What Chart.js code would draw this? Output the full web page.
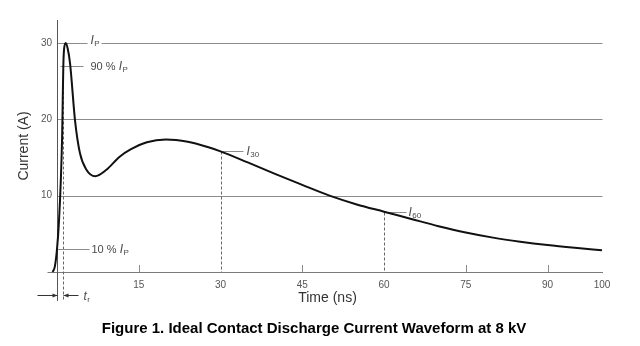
<!DOCTYPE html>
<html>
<head>
<meta charset="utf-8">
<script src="https://cdn.jsdelivr.net/npm/chart.js@4.4.1/dist/chart.umd.min.js"></script>
<style>
  html, body { margin: 0; padding: 0; background: #fff; }
  #wrap { width: 640px; height: 346px; }
</style>
</head>
<body>
<div id="wrap"><canvas id="chart" width="640" height="346"></canvas></div>
<script>
// ── Datos ──────────────────────────────────────────────────────────────────
const timeNs   = [-0.8, -0.4, 0, 0.35, 0.7, 0.95, 1.05, 1.16, 1.3, 1.6, 1.95, 2.4, 3.3, 4.2, 5.4, 7.0, 9.0, 11.5, 13.5, 16.5, 20, 24, 27.5, 30, 35, 40, 45, 50, 55, 60, 65, 70, 75, 80, 85, 90, 95, 100];
const currentA = [0, 0.7, 3, 6.5, 12, 18, 22.5, 27, 29.2, 30, 29.3, 27.3, 19.9, 15.6, 13.4, 12.55, 13.35, 15.1, 16.05, 17.0, 17.35, 17.05, 16.4, 15.8, 14.35, 12.85, 11.4, 10.0, 8.85, 7.9, 6.95, 6.0, 5.17, 4.5, 3.97, 3.53, 3.17, 2.85];
const xTicks = [15, 30, 45, 60, 75, 90, 100];
const yTicks = [10, 20, 30];
const peakA = 30;
const riseTimeNs = 1.16;          // cruce del 90 %
const i30 = currentA[timeNs.indexOf(30)];
const i60 = currentA[timeNs.indexOf(60)];

const FONT = '"Liberation Sans", Arial, sans-serif';
const GRAY = '#8c8c8c';
const LABEL = '#4a4a4a';

// ── Utilidades de dibujo ───────────────────────────────────────────────────
function seg(ctx, x1, y1, x2, y2) {
  ctx.beginPath();
  ctx.moveTo(x1, y1);
  ctx.lineTo(x2, y2);
  ctx.stroke();
}

// texto normal + letra cursiva + subíndice
function subLabel(ctx, x, y, pre, main, sub) {
  ctx.textBaseline = 'middle';
  ctx.textAlign = 'left';
  ctx.fillStyle = LABEL;
  ctx.font = '11px ' + FONT;
  ctx.fillText(pre, x, y);
  x += ctx.measureText(pre).width;
  ctx.font = 'italic 12px ' + FONT;
  ctx.fillText(main, x, y);
  x += ctx.measureText(main).width + 0.5;
  ctx.font = '8px ' + FONT;
  ctx.fillText(sub, x, y + 3);
  return x + ctx.measureText(sub).width;
}

function arrow(ctx, x1, x2, y) {
  seg(ctx, x1, y, x2, y);
  const d = x2 > x1 ? -1 : 1;
  ctx.beginPath();
  ctx.moveTo(x2, y);
  ctx.lineTo(x2 + d * 5, y - 2);
  ctx.lineTo(x2 + d * 5, y + 2);
  ctx.closePath();
  ctx.fill();
}

// ── Anotaciones ────────────────────────────────────────────────────────────
const annotations = {
  id: 'annotations',
  beforeDatasetsDraw(chart) {
    const { ctx, chartArea: a, scales: { x, y } } = chart;
    const X = v => Math.round(x.getPixelForValue(v)) + 0.5;
    const Y = v => Math.round(y.getPixelForValue(v)) + 0.5;
    ctx.save();
    ctx.lineWidth = 1;

    // prolongación del eje x a la izquierda
    ctx.strokeStyle = '#7a7a7a';
    seg(ctx, X(0) - 10, Y(0), a.left, Y(0));

    // rejilla horizontal desde el eje
    ctx.strokeStyle = GRAY;
    yTicks.forEach(v => seg(ctx, X(0), Y(v), X(100), Y(v)));

    // eje vertical (prolongado hasta t_r)
    ctx.strokeStyle = '#555';
    seg(ctx, X(0), a.top, X(0), a.bottom + 29);

    // marcas del eje x
    ctx.strokeStyle = GRAY;
    xTicks.filter(v => v !== 30 && v !== 60 && v !== 100)
      .forEach(v => seg(ctx, X(v), a.bottom, X(v), a.bottom - 7));

    // líneas discontinuas
    ctx.strokeStyle = '#666';
    ctx.setLineDash([3, 2]);
    seg(ctx, X(riseTimeNs), Y(peakA * 0.9), X(riseTimeNs), a.bottom + 29);
    seg(ctx, X(30), Y(i30), X(30), a.bottom);
    seg(ctx, X(60), Y(i60), X(60), a.bottom);
    ctx.setLineDash([]);

    // I_P sobre la línea de 30
    ctx.fillStyle = '#fff';
    ctx.fillRect(X(0) + 30, Y(peakA) - 8, 14, 12);
    subLabel(ctx, X(0) + 33, Y(peakA) - 3, '', 'I', 'P');

    // 90 % I_P
    ctx.strokeStyle = GRAY;
    seg(ctx, X(0.5), Y(peakA * 0.9), X(4.8), Y(peakA * 0.9));
    subLabel(ctx, X(4.8) + 7, Y(peakA * 0.9), '90 % ', 'I', 'P');

    // 10 % I_P
    seg(ctx, X(0), Y(peakA * 0.1), X(5.8), Y(peakA * 0.1));
    subLabel(ctx, X(5.8) + 2, Y(peakA * 0.1), '10 % ', 'I', 'P');

    // I30 / I60
    seg(ctx, X(30), Y(i30), X(30) + 22, Y(i30));
    subLabel(ctx, X(30) + 25, Y(i30), '', 'I', '30');
    seg(ctx, X(60), Y(i60), X(60) + 22, Y(i60));
    subLabel(ctx, X(60) + 24, Y(i60), '', 'I', '60');

    // t_r
    ctx.strokeStyle = '#333';
    ctx.fillStyle = '#333';
    const ay = a.bottom + 23.5;
    arrow(ctx, X(0) - 20, X(0), ay);
    arrow(ctx, X(riseTimeNs) + 15, X(riseTimeNs), ay);
    subLabel(ctx, X(riseTimeNs) + 20, ay + 1, '', 't', 'r');
    ctx.restore();
  },
  afterDraw(chart) {
    const { ctx } = chart;
    ctx.save();
    ctx.fillStyle = '#000';
    ctx.font = 'bold 15px ' + FONT;
    ctx.textAlign = 'center';
    ctx.textBaseline = 'middle';
    ctx.fillText('Figure 1. Ideal Contact Discharge Current Waveform at 8 kV', 314, 329);
    ctx.restore();
  }
};

// ── Gráfica ────────────────────────────────────────────────────────────────
new Chart(document.getElementById('chart'), {
  type: 'line',
  data: {
    datasets: [{
      data: timeNs.map((t, i) => ({ x: t, y: currentA[i] })),
      borderColor: '#111',
      borderWidth: 2,
      pointRadius: 0,
      cubicInterpolationMode: 'monotone',
      fill: false,
      clip: { left: 8, top: 4, right: 2, bottom: 2 }
    }]
  },
  plugins: [annotations],
  options: {
    responsive: false,
    animation: false,
    devicePixelRatio: 1,
    layout: { padding: { top: 20, right: 38, left: 0, bottom: 0 } },
    plugins: { legend: { display: false }, tooltip: { enabled: false } },
    scales: {
      x: {
        type: 'linear',
        min: -0.734,
        max: 100,
        afterBuildTicks: s => { s.ticks = xTicks.map(v => ({ value: v })); },
        afterFit: s => { s.height = 74; },
        grid: { display: false, drawTicks: false },
        border: { display: true, color: '#7a7a7a', width: 1 },
        ticks: { color: '#555', font: { family: FONT, size: 10 }, padding: 7, maxRotation: 0, autoSkip: false },
        title: { display: true, text: 'Time (ns)', color: '#333', font: { family: FONT, size: 14 }, padding: { top: 0, bottom: 39 } }
      },
      y: {
        type: 'linear',
        min: 0,
        max: 33,
        afterBuildTicks: s => { s.ticks = yTicks.map(v => ({ value: v })); },
        afterFit: s => { s.width = 53; },
        grid: { display: false, drawTicks: false },
        border: { display: false },
        ticks: { color: '#555', font: { family: FONT, size: 10 }, padding: 1 },
        title: { display: true, text: 'Current (A)', color: '#333', font: { family: FONT, size: 14 }, padding: { top: 16, bottom: 0 } }
      }
    }
  }
});
</script>
</body>
</html>
